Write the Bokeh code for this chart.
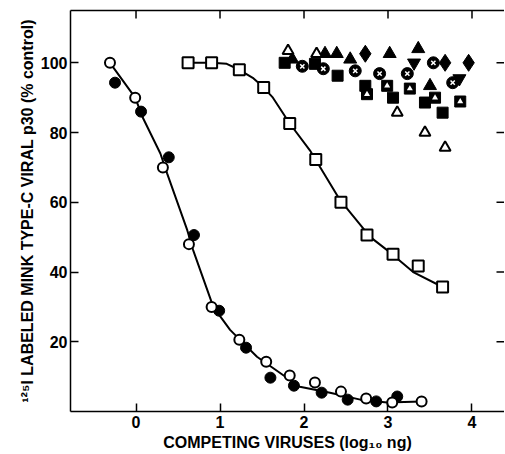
import math
from bokeh.plotting import figure
from bokeh.models import Range1d, LinearAxis, FixedTicker
from bokeh.embed import file_html
from bokeh.resources import INLINE

# log10 ng of competing virus vs. % of control binding
# open circles
oc_x = [-0.31, -0.01, 0.32, 0.63, 0.90, 1.23, 1.55, 1.83, 2.13, 2.44, 2.74, 3.05, 3.40]
oc_y = [100.0, 90.0, 70.0, 48.0, 30.0, 20.6, 14.3, 10.3, 8.3, 5.7, 3.7, 2.6, 2.9]
# filled circles
fc_x = [-0.25, 0.06, 0.39, 0.69, 0.99, 1.31, 1.60, 1.88, 2.21, 2.52, 2.86, 3.11]
fc_y = [94.3, 86.0, 72.9, 50.6, 28.9, 18.3, 9.7, 7.4, 5.4, 3.4, 2.9, 4.3]
# fitted curve through the circle series
cc_x = [-0.31, -0.01, 0.08, 0.29, 0.37, 0.61, 0.68, 0.92, 1.12, 1.44, 1.83, 1.95, 2.31, 2.67, 2.99, 3.40]
cc_y = [100.0, 90.0, 84.3, 74.0, 68.3, 52.0, 46.3, 30.0, 23.4, 15.7, 9.1, 7.1, 5.4, 3.4, 2.6, 2.9]

# open squares
os_x = [0.62, 0.90, 1.23, 1.52, 1.83, 2.14, 2.44, 2.75, 3.06, 3.36, 3.65]
os_y = [100.0, 100.0, 98.0, 92.9, 82.6, 72.3, 60.0, 50.6, 45.1, 41.7, 35.7]
# fitted curve through the square series
sc_x = [0.62, 0.90, 1.08, 1.23, 1.39, 1.52, 1.63, 1.83, 2.07, 2.43, 2.79, 3.02, 3.30, 3.65]
sc_y = [100.0, 100.0, 99.7, 98.0, 95.7, 92.9, 90.0, 82.6, 74.9, 60.6, 50.0, 45.7, 40.0, 35.7]

# non-competing viruses
ftri_x = [1.86, 2.25, 2.39, 2.55, 3.02, 3.36, 3.50]
ftri_y = [101.0, 102.6, 102.6, 101.0, 102.6, 104.0, 93.4]
otri_x = [1.81, 2.15, 3.11, 3.44, 3.68]
otri_y = [103.4, 102.6, 85.7, 80.0, 75.7]
itri_x = [3.31, 3.85]
itri_y = [100.0, 95.5]
dia_x = [2.73, 3.68, 3.96]
dia_y = [102.6, 100.0, 100.0]
fsq_x = [1.77, 2.13, 2.40, 2.73, 3.06, 3.44, 3.65]
fsq_y = [100.0, 99.7, 96.3, 93.4, 90.0, 88.6, 85.7]
cx_x = [1.98, 2.23, 2.61, 2.90, 3.23, 3.54, 3.77]
cx_y = [99.0, 98.3, 97.7, 96.9, 96.9, 100.0, 94.3]
hsq_x = [2.75, 2.99, 3.26, 3.56, 3.86]
hsq_y = [91.0, 93.4, 92.6, 90.0, 88.9]

x_ticks = [0, 1, 2, 3, 4]
y_ticks = [20, 40, 60, 80, 100]

FONT = "Liberation Sans"

xr = Range1d(-0.78, 4.387)
yr = Range1d(0, 115)

p = figure(frame_width=434, frame_height=401, output_backend="svg", toolbar_location=None,
           x_range=xr, y_range=yr,
           min_border_left=70, min_border_right=0, min_border_top=10,
           min_border_bottom=43, x_axis_location=None, y_axis_location=None)
p.outline_line_color = None
p.grid.visible = False
p.background_fill_color = "white"
p.border_fill_color = "white"


def style(ax, ticks):
    ax.ticker = FixedTicker(ticks=ticks)
    ax.minor_tick_line_color = None
    ax.major_tick_in = 8
    ax.major_tick_out = 0
    ax.major_tick_line_width = 1.5
    ax.axis_line_width = 1.5
    ax.axis_line_color = "black"
    ax.major_tick_line_color = "black"
    ax.major_label_text_font = FONT
    ax.major_label_text_font_style = "bold"
    ax.major_label_text_font_size = "16px"
    ax.major_label_text_color = "black"
    ax.axis_label_text_font = FONT
    ax.axis_label_text_font_style = "bold"
    ax.axis_label_text_font_size = "16px"
    ax.axis_label_text_color = "black"


bottom = LinearAxis(axis_label="COMPETING VIRUSES (log\u2081\u2080 ng)")
style(bottom, x_ticks)
bottom.major_label_standoff = 4
bottom.axis_label_standoff = 3
p.add_layout(bottom, "below")

left = LinearAxis(axis_label="\u00b9\u00b2\u2075I LABELED MINK TYPE-C VIRAL p30 (% control)")
style(left, y_ticks)
left.major_label_standoff = 3
left.axis_label_standoff = 2
p.add_layout(left, "left")

# top border line
top = LinearAxis(ticker=FixedTicker(ticks=[]), major_label_standoff=0)
top.axis_line_width = 1.5
top.minor_tick_line_color = None
top.major_tick_line_color = None
p.add_layout(top, "above")

# inward tick marks along the top and right edges (clipped to the frame)
p.scatter(x_ticks, [yr.end] * len(x_ticks), marker="dash", angle=math.pi / 2,
          size=16, line_color="black", line_width=1.5)
p.scatter([xr.end] * len(y_ticks), y_ticks, marker="dash",
          size=16, line_color="black", line_width=1.5)

# curves
p.line(cc_x, cc_y, line_color="black", line_width=2)
p.line(sc_x, sc_y, line_color="black", line_width=2)

# circle series
p.scatter(fc_x, fc_y, marker="circle", size=11, fill_color="black", line_color="black")
p.scatter(oc_x, oc_y, marker="circle", size=10, fill_color="white", line_color="black", line_width=2)

# square series
p.scatter(os_x, os_y, marker="square", size=11, fill_color="white", line_color="black", line_width=2)

# viruses that do not compete
p.scatter(fsq_x, fsq_y, marker="square", size=11, fill_color="black", line_color="black")
p.scatter(hsq_x, hsq_y, marker="square", size=11, fill_color="black", line_color="black")
p.scatter(hsq_x, hsq_y, marker="triangle", size=6, fill_color="white", line_color=None)
p.scatter(cx_x, cx_y, marker="circle", size=12, fill_color="black", line_color="black")
p.scatter(cx_x, cx_y, marker="x", size=6, line_color="white", line_width=1.5)
p.scatter(ftri_x, ftri_y, marker="triangle", size=13, fill_color="black", line_color="black")
p.scatter(itri_x, itri_y, marker="inverted_triangle", size=13, fill_color="black", line_color="black")
p.scatter(dia_x, dia_y, marker="diamond", size=17, fill_color="black", line_color="black")
p.scatter(otri_x, otri_y, marker="triangle", size=11, fill_color="white", line_color="black", line_width=2)

open("out.html", "w").write(file_html(p, INLINE))
